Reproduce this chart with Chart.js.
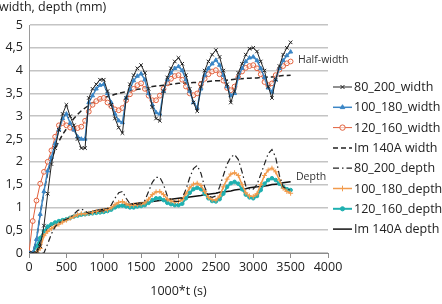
<!DOCTYPE html>
<html><head><meta charset="utf-8">
<script src="https://cdn.jsdelivr.net/npm/chart.js@4/dist/chart.umd.min.js"></script>
<style>html,body{margin:0;padding:0;background:#fff;}canvas{display:block;}</style>
</head><body>
<canvas id="c" width="442" height="304"></canvas>
<script>
const tValues = [0,50,100,150,200,250,300,350,400,450,500,550,600,650,700,750,800,850,900,950,1000,1050,1100,1150,1200,1250,1300,1350,1400,1450,1500,1550,1600,1650,1700,1750,1800,1850,1900,1950,2000,2050,2100,2150,2200,2250,2300,2350,2400,2450,2500,2550,2600,2650,2700,2750,2800,2850,2900,2950,3000,3050,3100,3150,3200,3250,3300,3350,3400,3450,3500];
const xTicks = [0,500,1000,1500,2000,2500,3000,3500,4000];
const yTicks = [0,0.5,1,1.5,2,2.5,3,3.5,4,4.5,5];
const seriesNames = ['80_200_width','100_180_width','120_160_width','Im 140A width','80_200_depth','100_180_depth','120_160_depth','Im 140A depth'];

const w80_200 = [0,0,0,0.15,0.6,1.3,1.95,2.3,2.7,3.05,3.25,3.0,2.8,2.5,2.3,2.3,3.4,3.6,3.7,3.8,3.8,3.55,3.25,2.95,2.75,2.63,3.4,3.7,3.9,4.05,4.12,3.95,3.6,3.2,2.95,2.9,3.55,3.85,4.05,4.2,4.28,4.15,3.9,3.6,3.3,3.11,3.65,4.0,4.2,4.35,4.45,4.3,4.0,3.7,3.3,3.55,3.95,4.15,4.35,4.48,4.5,4.42,4.2,4.0,3.65,3.4,3.8,4.1,4.35,4.5,4.62];
const w100_180 = [0,0,0.3,0.85,1.35,1.8,2.1,2.4,2.7,2.95,3.05,2.85,2.7,2.55,2.5,2.5,3.3,3.45,3.6,3.68,3.7,3.5,3.3,3.05,2.9,2.86,3.4,3.6,3.78,3.88,3.93,3.8,3.5,3.25,3.08,3.05,3.55,3.8,3.95,4.05,4.09,4.0,3.8,3.55,3.3,3.18,3.6,3.9,4.05,4.15,4.23,4.12,3.9,3.65,3.45,3.5,3.85,4.05,4.2,4.28,4.3,4.22,4.05,3.85,3.62,3.53,3.8,4.05,4.22,4.33,4.41];
const w120_160 = [0,0.7,1.15,1.52,1.78,2.0,2.25,2.55,2.8,2.85,2.8,2.75,2.72,2.74,2.77,2.9,3.1,3.25,3.33,3.38,3.4,3.3,3.22,3.15,3.13,3.18,3.35,3.48,3.6,3.68,3.72,3.6,3.45,3.35,3.35,3.45,3.6,3.72,3.82,3.88,3.9,3.8,3.65,3.5,3.46,3.5,3.7,3.82,3.92,3.98,4.01,3.92,3.78,3.62,3.57,3.65,3.85,3.98,4.06,4.1,4.12,4.05,3.92,3.75,3.68,3.72,3.9,4.02,4.1,4.16,4.2];
const wIm140A = [0,0,0.3,0.85,1.35,1.75,2.05,2.28,2.45,2.6,2.72,2.84,2.95,3.04,3.12,3.18,3.24,3.29,3.33,3.37,3.4,3.43,3.45,3.48,3.5,3.52,3.54,3.56,3.57,3.59,3.6,3.62,3.63,3.65,3.66,3.67,3.68,3.69,3.7,3.71,3.72,3.72,3.73,3.73,3.74,3.74,3.75,3.75,3.76,3.77,3.78,3.78,3.79,3.79,3.8,3.81,3.82,3.82,3.83,3.83,3.84,3.84,3.85,3.85,3.86,3.86,3.87,3.88,3.89,3.89,3.9];
const d80_200 = [0,0,0,0,0,0.2,0.42,0.58,0.66,0.71,0.74,0.78,0.85,0.93,0.97,0.92,0.87,0.88,0.9,0.92,0.93,0.97,1.05,1.2,1.32,1.35,1.2,1.08,1.06,1.07,1.08,1.15,1.35,1.55,1.66,1.66,1.5,1.25,1.17,1.13,1.13,1.2,1.4,1.65,1.85,1.92,1.75,1.45,1.25,1.22,1.25,1.45,1.7,1.95,2.1,2.16,2.05,1.78,1.47,1.4,1.4,1.5,1.72,1.95,2.18,2.27,2.1,1.7,1.45,1.4,1.38];
const d100_180 = [0,0,0,0.1,0.38,0.47,0.54,0.59,0.63,0.68,0.72,0.76,0.8,0.84,0.86,0.86,0.87,0.89,0.91,0.92,0.93,0.95,0.99,1.06,1.11,1.13,1.08,1.04,1.05,1.06,1.07,1.1,1.18,1.28,1.34,1.35,1.28,1.18,1.14,1.12,1.13,1.17,1.3,1.43,1.51,1.53,1.48,1.35,1.22,1.17,1.16,1.25,1.45,1.62,1.73,1.76,1.7,1.5,1.32,1.25,1.24,1.3,1.5,1.7,1.82,1.86,1.78,1.6,1.42,1.35,1.31];
const d120_160 = [0,0,0.15,0.33,0.48,0.58,0.63,0.67,0.7,0.72,0.74,0.77,0.8,0.82,0.84,0.85,0.86,0.87,0.88,0.89,0.9,0.92,0.95,1.0,1.03,1.04,1.02,1.0,1.0,1.02,1.03,1.05,1.1,1.16,1.2,1.2,1.16,1.1,1.07,1.05,1.05,1.08,1.2,1.32,1.4,1.43,1.4,1.3,1.2,1.14,1.13,1.18,1.3,1.45,1.53,1.56,1.52,1.4,1.28,1.22,1.2,1.25,1.38,1.52,1.6,1.64,1.6,1.52,1.45,1.4,1.38];
const dIm140A = [0,0,0.02,0.28,0.45,0.55,0.61,0.65,0.68,0.71,0.74,0.77,0.8,0.83,0.85,0.87,0.89,0.91,0.93,0.95,0.96,0.97,0.99,1.01,1.03,1.05,1.06,1.07,1.08,1.09,1.1,1.11,1.12,1.13,1.14,1.15,1.16,1.17,1.18,1.19,1.2,1.21,1.22,1.23,1.24,1.25,1.26,1.28,1.29,1.3,1.31,1.33,1.34,1.35,1.36,1.38,1.39,1.4,1.41,1.43,1.44,1.45,1.46,1.47,1.48,1.5,1.51,1.52,1.54,1.55,1.56];

const FONT = "'Open Sans', 'Noto Sans', sans-serif";
const toXY = vals => vals.map((v, i) => ({x: tValues[i], y: v}));

const styles = [
  {borderColor:'#222', borderWidth:1, pointStyle:'crossRot', pointRadius:2.5, pointBorderWidth:1, pointBackgroundColor:'#222', borderDash:[]},
  {borderColor:'#3b86c6', borderWidth:1.5, pointStyle:'triangle', pointRadius:2.3, pointBorderWidth:1, pointBackgroundColor:'#3b86c6', borderDash:[]},
  {borderColor:'#e2603c', borderWidth:1, pointStyle:'circle', pointRadius:2.4, pointBorderWidth:1, pointBackgroundColor:'rgba(255,255,255,0.6)', borderDash:[]},
  {borderColor:'#222', borderWidth:1.5, pointStyle:false, pointRadius:0, pointBorderWidth:0, pointBackgroundColor:'#222', borderDash:[5,3]},
  {borderColor:'#222', borderWidth:1.2, pointStyle:false, pointRadius:0, pointBorderWidth:0, pointBackgroundColor:'#222', borderDash:[6,3,1.5,3]},
  {borderColor:'#f29b4c', borderWidth:1.5, pointStyle:'cross', pointRadius:2.5, pointBorderWidth:1, pointBackgroundColor:'#f29b4c', borderDash:[]},
  {borderColor:'#1fb0b0', borderWidth:2, pointStyle:'circle', pointRadius:1.8, pointBorderWidth:1, pointBackgroundColor:'#1fb0b0', borderDash:[]},
  {borderColor:'#111', borderWidth:1.5, pointStyle:false, pointRadius:0, pointBorderWidth:0, pointBackgroundColor:'#111', borderDash:[]}
];
const seriesData = [w80_200, w100_180, w120_160, wIm140A, d80_200, d100_180, d120_160, dIm140A];

const datasets = seriesData.map((vals, i) => Object.assign({
  label: seriesNames[i],
  data: toXY(vals),
  pointBorderColor: styles[i].borderColor,
  tension: 0,
  fill: false
}, styles[i]));

const extras = {
  id: 'extras',
  afterDraw(chart) {
    const ctx = chart.ctx;
    ctx.save();
    ctx.fillStyle = '#222';
    ctx.font = "12.5px " + FONT;
    ctx.textBaseline = 'middle';
    ctx.textAlign = 'left';
    ctx.fillText('width, depth (mm)', -1, 7);
    ctx.font = "10.5px " + FONT;
    ctx.fillStyle = '#333';
    ctx.fillText('Half-width', 298, 60);
    ctx.fillText('Depth', 296, 177);
    const y0 = 87, dy = 20.3;
    chart.data.datasets.forEach((ds, i) => {
      const y = y0 + i * dy;
      ctx.save();
      ctx.strokeStyle = ds.borderColor;
      ctx.lineWidth = ds.borderWidth;
      ctx.setLineDash(ds.borderDash || []);
      ctx.beginPath();
      ctx.moveTo(333, y);
      ctx.lineTo(352, y);
      ctx.stroke();
      ctx.setLineDash([]);
      if (ds.pointStyle) {
        ctx.fillStyle = ds.pointBackgroundColor;
        ctx.strokeStyle = ds.borderColor;
        ctx.lineWidth = ds.pointBorderWidth;
        Chart.helpers.drawPoint(ctx, {pointStyle: ds.pointStyle, radius: ds.pointRadius + 0.3, borderWidth: ds.pointBorderWidth, rotation: 0}, 342.5, y);
      }
      ctx.restore();
      ctx.fillStyle = '#222';
      ctx.font = "12.5px " + FONT;
      ctx.textBaseline = 'middle';
      ctx.fillText(ds.label, 354, y + 0.5);
    });
    ctx.restore();
  }
};

new Chart(document.getElementById('c'), {
  type: 'line',
  data: { datasets },
  options: {
    responsive: false,
    animation: false,
    devicePixelRatio: 1,
    layout: { padding: { left: 0, right: 114, top: 25, bottom: 0 } },
    plugins: { legend: { display: false }, tooltip: { enabled: false } },
    scales: {
      x: {
        type: 'linear', min: 0, max: 4000,
        afterBuildTicks: s => { s.ticks = xTicks.map(v => ({value: v})); },
        afterFit: s => { s.height = 51; },
        grid: { drawOnChartArea: false, drawTicks: true, tickLength: 5, color: '#8c8c8c', lineWidth: 1 },
        border: { color: '#8c8c8c', width: 1 },
        ticks: { font: { family: FONT, size: 12.5 }, color: '#222', padding: 2, maxRotation: 0,
          callback: v => String(v) },
        title: { display: true, text: '1000*t (s)', font: { family: FONT, size: 12.5 }, color: '#222', padding: { top: 0, bottom: 5 } }
      },
      y: {
        min: 0, max: 5,
        afterBuildTicks: s => { s.ticks = yTicks.map(v => ({value: v})); },
        afterFit: s => { s.width = 29; },
        grid: { drawTicks: false, tickLength: 0, color: '#c4c4c4', lineWidth: 1.5 },
        border: { color: '#9a9a9a', width: 1 },
        ticks: { font: { family: FONT, size: 12.5 }, color: '#222', padding: 6,
          callback: v => String(v).replace('.', ',') }
      }
    }
  },
  plugins: [extras]
});
</script>
</body></html>
